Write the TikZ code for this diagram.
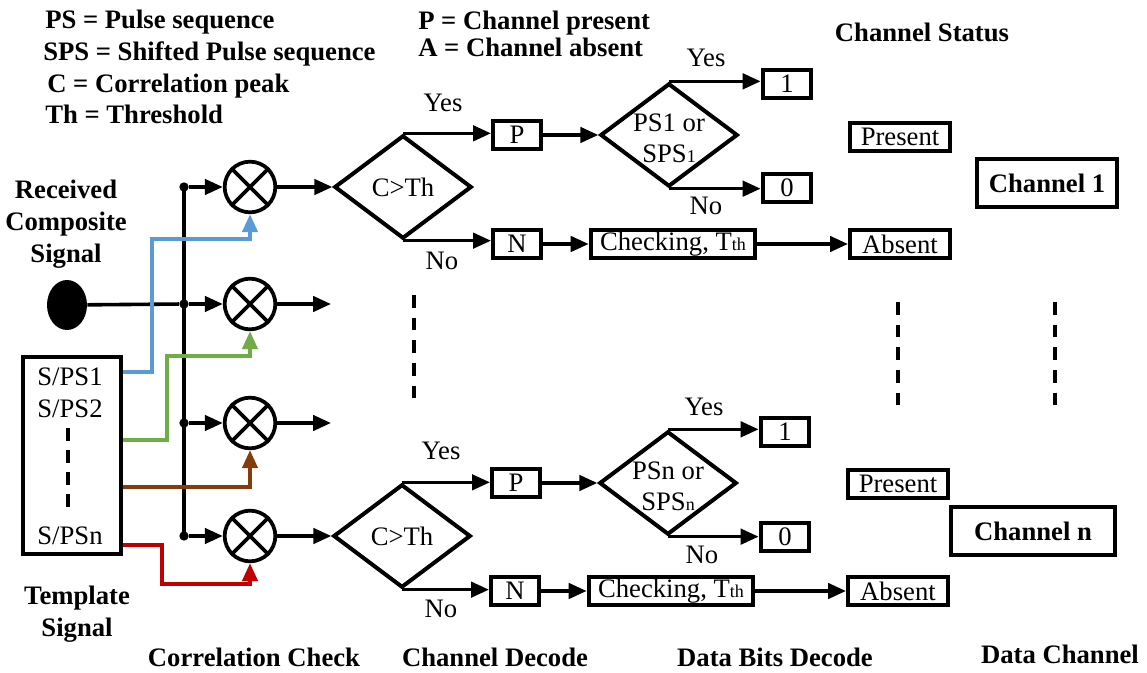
\documentclass[tikz,border=0pt]{standalone}
\usepackage{fontspec}
\setmainfont{Liberation Serif}
\usetikzlibrary{shapes.geometric,arrows.meta}

% smaller index used in SPS1, SPSn and T_th
\newcommand\smallidx[1]{{\fontsize{13.5}{13.5}\selectfont #1}}

\definecolor{cblue}{HTML}{5B9BD5}
\definecolor{cgreen}{HTML}{70AD47}
\definecolor{cbrown}{HTML}{843C0C}
\definecolor{cred}{HTML}{C00000}

\begin{document}
\begin{tikzpicture}[x=0.75pt,y=-0.75pt,
  every node/.style={font=\fontsize{20}{23}\selectfont, inner sep=0pt},
  txt/.style={font=\fontsize{20}{23}\selectfont},
  lbl/.style={font=\fontsize{20}{24}\selectfont\bfseries},
  wire/.style={line width=2.7pt},
  arr/.style={wire, -{Triangle[length=13.5pt,width=11.5pt]}},
  cline/.style={line width=2.7pt, draw=#1, -{Triangle[length=13.5pt,width=11.5pt]}},
  box/.style={draw, line width=3pt, rectangle},
  dia/.style={draw, line width=3pt, diamond, minimum width=103pt, minimum height=77.5pt},
  mix/.style={draw, circle, line width=2.8pt, minimum size=38pt},
  dot/.style={circle, fill=black, minimum size=7pt},
  dots/.style={line width=2.7pt, dash pattern=on 9.5pt off 7.5pt},
]
\useasboundingbox (0,0) rectangle (1147,673);

% ---------- legend ----------
\node[lbl, anchor=base west] (lg1) at (45,29) {PS = Pulse sequence};
\node[lbl, anchor=base west] (lg2) at (43,61) {SPS = Shifted Pulse sequence};
\node[lbl, anchor=base west] (lg3) at (47,93) {C = Correlation peak};
\node[lbl, anchor=base west] (lg4) at (45,124) {Th = Threshold};
\node[lbl, anchor=base west] (lg5) at (418,30) {P = Channel present};
\node[lbl, anchor=base west] (lg6) at (418,57) {A = Channel absent};
\node[lbl, anchor=base] (lg7) at (922,42) {Channel Status};

% ---------- column captions ----------
\node[lbl, align=center] (rcv) at (66,224) {Received\\Composite\\Signal};
\node[lbl, align=center] (tpl) at (77,614) {Template\\Signal};
\node[lbl, anchor=base] (cap1) at (254,667) {Correlation Check};
\node[lbl, anchor=base] (cap2) at (495,667) {Channel Decode};
\node[lbl, anchor=base] (cap3) at (775,667) {Data Bits Decode};
\node[lbl, anchor=base] (cap4) at (1060,663) {Data Channel};

% ---------- inputs ----------
\node[ellipse, fill=black, minimum width=30pt, minimum height=37.5pt] (src) at (67,305) {};
\node[box, minimum width=74pt, minimum height=148pt] (tmpl) at (72,455.5) {};
\node[txt, anchor=base] (s1) at (70,386) {S/PS1};
\node[txt, anchor=base] (s2) at (70,418) {S/PS2};
\node[txt, anchor=base] (sn) at (70,545) {S/PSn};
\draw[line width=2.7pt, dash pattern=on 9.5pt off 7pt] (68,428) -- (68,512);

% ---------- multipliers ----------
\foreach \i/\y in {1/187,2/304,3/423,4/536}{
  \node[mix] (m\i) at (250,\y) {};
  \draw[wire] (m\i.north east) -- (m\i.south west) (m\i.north west) -- (m\i.south east);
  \node[dot] (j\i) at (184,\y) {};
  \draw[arr] (j\i) -- (m\i);
}
\draw[wire] (j1.center) -- (j4.center);
\draw[wire] (src) -- (j2);

% template sequences into the multipliers
\coordinate (t1) at (123,372);
\coordinate (t2) at (123,440);
\coordinate (t3) at (123,487);
\coordinate (t4) at (123,545);
\coordinate (b1) at (152,239);
\coordinate (g1) at (167,356);
\coordinate (r1) at (162,584);
\draw[cline=cblue] (t1) -| (b1) -| (m1.south);
\draw[cline=cgreen] (t2) -| (g1) -| (m2.south);
\draw[cline=cbrown] (t3) -| (m3.south);
\draw[cline=cred] (t4) -| (r1) -| (m4.south);

% ---------- channel decode ----------
\node[dia] (d1) at (403,187) {};
\node[txt] at (d1) {C>Th};
\node[dia] (d3) at (402,536) {};
\node[txt] at (d3) {C>Th};

\coordinate (o2) at (331,304);
\coordinate (o3) at (331,423);
\draw[arr] (m1) -- (d1.west);
\draw[arr] (m2) -- (o2);
\draw[arr] (m3) -- (o3);
\draw[arr] (m4) -- (d3.west);
\draw[dots] (414,295) -- (414,402);

\node[box, minimum width=36pt, minimum height=21pt] (p1) at (517,135) {P};
\node[box, minimum width=36pt, minimum height=21pt] (n1) at (517,244) {N};
\node[box, minimum width=36pt, minimum height=21pt] (p2) at (516,483) {P};
\node[box, minimum width=36pt, minimum height=21pt] (n2) at (515,591) {N};

\draw[arr] (d1.north) -- (d1.north -| p1.west);
\draw[arr] (d1.south) -- (d1.south -| n1.west);
\draw[arr] (d3.north) -- (d3.north -| p2.west);
\draw[arr] (d3.south) -- (d3.south -| n2.west);
\node[txt, anchor=base] (y1) at (443,112) {Yes};
\node[txt, anchor=base] (no1) at (442,270) {No};
\node[txt, anchor=base] (y3) at (441,460) {Yes};
\node[txt, anchor=base] (no3) at (441,618) {No};

% ---------- data bits decode ----------
\node[dia] (d2) at (669,135) {};
\node[txt, align=center] at (669,138) {PS1 or\\SPS\smallidx{1}};
\node[dia] (d4) at (668,483) {};
\node[txt, align=center] at (668,486) {PSn or\\SPS\smallidx{n}};

\draw[arr] (p1) -- (d2.west);
\draw[arr] (p2) -- (d4.west);

\node[box, minimum width=123.5pt, minimum height=21.5pt] (chk1) at (673,244) {Checking, T\smallidx{th}};
\node[box, minimum width=123.5pt, minimum height=21.5pt] (chk2) at (671,591) {Checking, T\smallidx{th}};
\draw[arr] (n1) -- (chk1);
\draw[arr] (n2) -- (chk2);

\node[box, minimum width=36.5pt, minimum height=21.5pt] (one1) at (787,84) {1};
\node[box, minimum width=36.5pt, minimum height=21.5pt] (zero1) at (787,188) {0};
\node[box, minimum width=36.5pt, minimum height=21.5pt] (one2) at (785,432) {1};
\node[box, minimum width=36.5pt, minimum height=21.5pt] (zero2) at (785,537) {0};
\draw[arr] (d2.north) -- (d2.north -| one1.west);
\draw[arr] (d2.south) -- (d2.south -| zero1.west);
\draw[arr] (d4.north) -- (d4.north -| one2.west);
\draw[arr] (d4.south) -- (d4.south -| zero2.west);
\node[txt, anchor=base] (y2) at (706,67) {Yes};
\node[txt, anchor=base] (no2) at (706,215) {No};
\node[txt, anchor=base] (y4) at (704,416) {Yes};
\node[txt, anchor=base] (no4) at (702,564) {No};

% ---------- channel status ----------
\node[box, minimum width=75pt, minimum height=21.5pt] (pres1) at (900,137) {Present};
\node[box, minimum width=75pt, minimum height=21.5pt] (abs1) at (900,244) {Absent};
\node[box, minimum width=75pt, minimum height=21.5pt] (pres2) at (898,484) {Present};
\node[box, minimum width=75pt, minimum height=21.5pt] (abs2) at (898,591) {Absent};
\draw[arr] (chk1) -- (abs1);
\draw[arr] (chk2) -- (abs2);
\draw[dots] (898,302) -- (898,407);

% ---------- data channel ----------
\node[box, lbl, minimum width=105pt, minimum height=36.5pt] (ch1) at (1047,183) {Channel 1};
\node[box, lbl, minimum width=123pt, minimum height=36.5pt] (chn) at (1033,531) {Channel n};
\draw[dots] (1055,302) -- (1055,407);
\end{tikzpicture}
\end{document}
